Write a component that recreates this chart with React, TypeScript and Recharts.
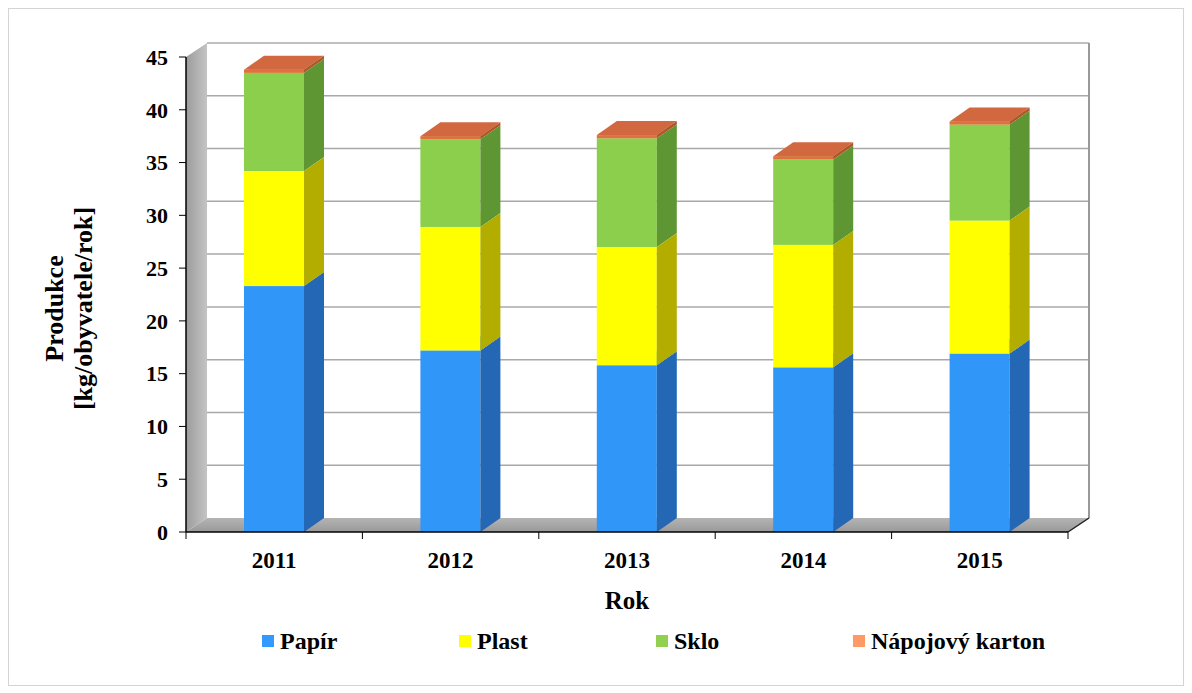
import { BarChart, Bar, XAxis, YAxis, Legend, ReferenceArea } from "recharts"

const years = ["2011", "2012", "2013", "2014", "2015"]
const papir = [23.3, 17.2, 15.8, 15.6, 16.9]
const plast = [10.9, 11.7, 11.2, 11.6, 12.6]
const sklo = [9.3, 8.3, 10.3, 8.1, 9.1]
const karton = [0.3, 0.3, 0.3, 0.3, 0.3]
const yTicks = [0, 5, 10, 15, 20, 25, 30, 35, 40, 45]

const data = years.map((year, i) => ({
  year,
  papir: papir[i],
  plast: plast[i],
  sklo: sklo[i],
  karton: karton[i],
}))

const series = [
  { key: "papir", name: "Papír", front: "#3096f8", side: "#2467b4", top: "#5aaefc", legend: "#3399ff" },
  { key: "plast", name: "Plast", front: "#ffff00", side: "#b3ad00", top: "#ffff66", legend: "#ffff00" },
  { key: "sklo", name: "Sklo", front: "#8ccf4d", side: "#5e9634", top: "#a6dc72", legend: "#92d050" },
  { key: "karton", name: "Nápojový karton", front: "#e0703f", side: "#b0542f", top: "#d2683f", legend: "#ff9966" },
]

const FONT = "'Liberation Serif', 'Times New Roman', serif"
// 3D depth of bars and walls
const DX = 20
const DY = -14
const WDX = 21
const WDY = -14

function box(front: string, side: string, top: string) {
  return (p: any) => {
    const { x, y, width: w, height: h } = p
    if (!h || h <= 0) return <g />
    return (
      <g>
        <rect x={x} y={y} width={w} height={h} fill={front} />
        <polygon
          points={`${x + w},${y} ${x + w + DX},${y + DY} ${x + w + DX},${y + h + DY} ${x + w},${y + h}`}
          fill={side}
        />
        <polygon points={`${x},${y} ${x + DX},${y + DY} ${x + w + DX},${y + DY} ${x + w},${y}`} fill={top} />
      </g>
    )
  }
}

function Walls(p: any) {
  const { x: L, y: T, width: W, height: H } = p
  const R = L + W
  const B = T + H
  const max = yTicks[yTicks.length - 1]
  const grid = yTicks.filter((v) => v > 0 && v < max).map((v) => T + ((max - v) / max) * H + WDY)
  const bounds = years.map((_, i) => L + (i * W) / years.length).concat([R])
  return (
    <g>
      <defs>
        <linearGradient id="wallGrad" x1="0" y1="0" x2="1" y2="0">
          <stop offset="0%" stopColor="#9c9c9c" />
          <stop offset="100%" stopColor="#c4c4c4" />
        </linearGradient>
        <linearGradient id="floorGrad" x1="0" y1="0" x2="0" y2="1">
          <stop offset="0%" stopColor="#b4b4b4" />
          <stop offset="100%" stopColor="#999999" />
        </linearGradient>
      </defs>
      <rect x={L + WDX} y={T + WDY} width={W} height={H} fill="#ffffff" />
      {grid.map((gy, i) => (
        <line key={i} x1={L + WDX} x2={R + WDX} y1={gy} y2={gy} stroke="#a8a8a8" strokeWidth={1.5} />
      ))}
      <line x1={L + WDX} x2={R + WDX} y1={T + WDY} y2={T + WDY} stroke="#c0c0c0" strokeWidth={2} />
      <line x1={R + WDX} x2={R + WDX} y1={T + WDY} y2={B + WDY} stroke="#999999" strokeWidth={2} />
      <polygon
        points={`${L},${T} ${L + WDX},${T + WDY} ${L + WDX},${B + WDY} ${L},${B}`}
        fill="url(#wallGrad)"
      />
      <polygon
        points={`${L},${B} ${L + WDX},${B + WDY} ${R + WDX},${B + WDY} ${R},${B}`}
        fill="url(#floorGrad)"
      />
      <line x1={R} y1={B} x2={R + WDX} y2={B + WDY} stroke="#222" strokeWidth={1.5} />
      {bounds.map((bx, i) => (
        <line key={i} x1={bx} x2={bx} y1={B} y2={B + 7} stroke="#000" strokeWidth={1} />
      ))}
    </g>
  )
}

function YTitle(p: any) {
  const vb = p.viewBox || { x: 0, y: 48, height: 475 }
  const cy = vb.y + vb.height / 2 + 14
  const x1 = vb.x + 54
  const x2 = vb.x + 83
  const style = { fontFamily: FONT, fontWeight: 700, fontSize: 26, fill: "#000" }
  return (
    <g>
      <text x={x1} y={cy} transform={`rotate(-90 ${x1} ${cy})`} textAnchor="middle" style={style}>
        Produkce
      </text>
      <text x={x2} y={cy} transform={`rotate(-90 ${x2} ${cy})`} textAnchor="middle" style={style}>
        [kg/obyvatele/rok]
      </text>
    </g>
  )
}

function LegendBox() {
  return (
    <div style={{ display: "flex", alignItems: "center", height: 30, paddingLeft: 253 }}>
      {series.map((s) => (
        <div key={s.key} style={{ width: 197, display: "flex", alignItems: "center", flexShrink: 0 }}>
          <span style={{ width: 12, height: 12, background: s.legend, marginRight: 6, display: "inline-block" }} />
          <span style={{ fontFamily: FONT, fontWeight: 700, fontSize: 24, color: "#000", whiteSpace: "nowrap" }}>
            {s.name}
          </span>
        </div>
      ))}
    </div>
  )
}

export default function App() {
  return (
    <div style={{ width: 1174, height: 676, border: "1px solid #d4d4d4", background: "#fff", fontFamily: FONT }}>
      <BarChart width={1174} height={676} data={data} margin={{ top: 48, right: 115, left: 0, bottom: 29 }}>
        <ReferenceArea y1={0} y2={45} shape={Walls} ifOverflow="visible" />
        <XAxis
          dataKey="year"
          height={94}
          interval={0}
          tickLine={false}
          tickSize={0}
          tickMargin={20}
          axisLine={{ stroke: "#000", strokeWidth: 1.5 }}
          tick={{ fontSize: 23, fontWeight: 700, fill: "#000", fontFamily: FONT }}
          label={{
            value: "Rok",
            position: "insideBottom",
            offset: 17,
            style: { fontSize: 25, fontWeight: 700, fill: "#000", fontFamily: FONT },
          }}
        />
        <YAxis
          width={177}
          domain={[0, 45]}
          ticks={yTicks}
          interval={0}
          tickSize={7}
          tickMargin={11}
          axisLine={{ stroke: "#000", strokeWidth: 1.5 }}
          tickLine={{ stroke: "#000" }}
          tick={{ fontSize: 22, fontWeight: 700, fill: "#000", fontFamily: FONT }}
          label={{ content: YTitle }}
        />
        {series.map((s) => (
          <Bar
            key={s.key}
            dataKey={s.key}
            name={s.name}
            stackId="a"
            barSize={60}
            fill={s.legend}
            isAnimationActive={false}
            shape={box(s.front, s.side, s.top)}
          />
        ))}
        <Legend verticalAlign="bottom" content={LegendBox} />
      </BarChart>
    </div>
  )
}
